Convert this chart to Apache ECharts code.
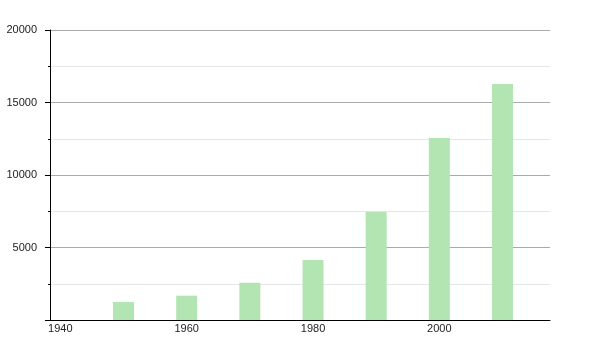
<!DOCTYPE html>
<html>
<head>
<meta charset="utf-8">
<script src="https://cdn.jsdelivr.net/npm/echarts@6/dist/echarts.min.js"></script>
<style>html,body{margin:0;padding:0;background:#fff}#c{width:600px;height:350px}</style>
</head>
<body>
<div id="c"></div>
<script>
var years = [1950, 1960, 1970, 1980, 1990, 2000, 2010];
var values = [1240, 1680, 2570, 4140, 7450, 12550, 16280];
var xTickLabels = [1940, 1960, 1980, 2000];
var yTickLabels = [5000, 10000, 15000, 20000];

var chart = echarts.init(document.getElementById('c'), null, {renderer: 'canvas'});
var font = '"Liberation Sans", Arial, sans-serif';
chart.setOption({
  animation: false,
  grid: {left: 50, right: 50, top: 30, bottom: 30, containLabel: false},
  xAxis: {
    type: 'value', min: 1938.36, max: 2017.52,
    axisLine: {show: true, onZero: false, lineStyle: {color: '#000', width: 1}},
    axisTick: {show: false},
    splitLine: {show: false},
    axisLabel: {customValues: xTickLabels, color: '#222', fontFamily: font, fontSize: 11, margin: 3,
      formatter: function(v){ return String(v); }}
  },
  yAxis: {
    type: 'value', min: 0, max: 20000, interval: 5000,
    axisLine: {show: true, lineStyle: {color: '#000', width: 1}},
    axisTick: {show: true, length: 5, lineStyle: {color: '#000'}},
    minorTick: {show: true, splitNumber: 2, length: 2, lineStyle: {color: '#000'}},
    splitLine: {show: true, lineStyle: {color: '#aaaaaa', width: 1}},
    minorSplitLine: {show: true, lineStyle: {color: '#e6e6e6', width: 1}},
    axisLabel: {customValues: yTickLabels, color: '#222', fontFamily: font, fontSize: 11, margin: 13,
      formatter: function(v){ return String(v); }}
  },
  series: [{
    type: 'bar',
    data: years.map(function(y, i){ return [y, values[i]]; }),
    barWidth: 21,
    itemStyle: {color: '#b3e5b3'}
  }]
});
</script>
</body>
</html>
